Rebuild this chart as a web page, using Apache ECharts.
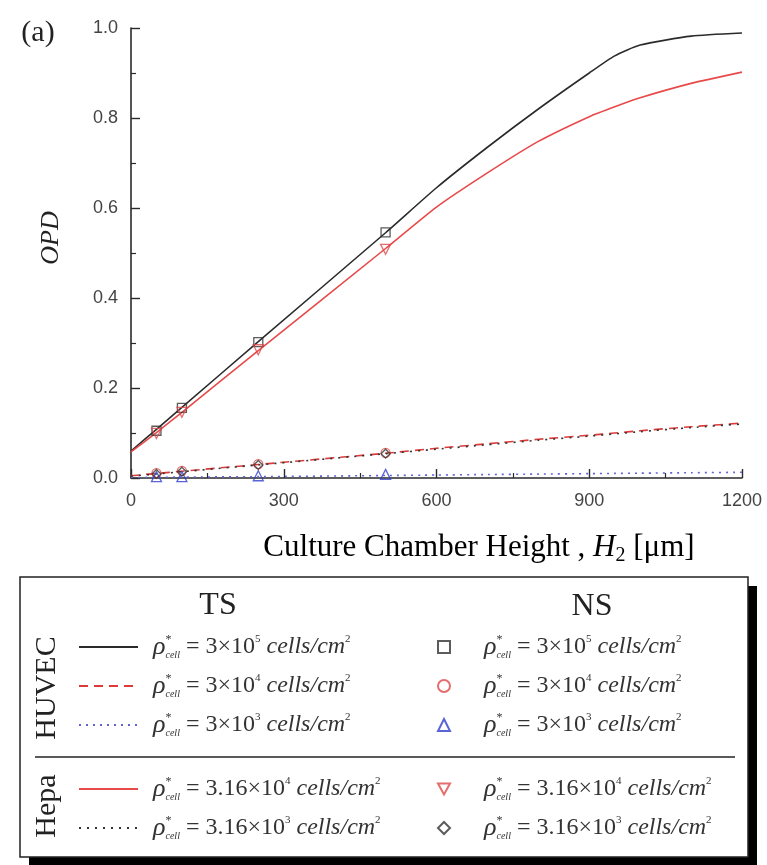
<!DOCTYPE html>
<html>
<head>
<meta charset="utf-8">
<script src="https://cdn.jsdelivr.net/npm/echarts@6/dist/echarts.min.js"></script>
<style>
  html, body { margin: 0; padding: 0; background: #fff; }
  #chart { width: 767px; height: 865px; }
</style>
</head>
<body>
<div id="chart"></div>
<script>
// chamber height H2 [um] for the TS curves
var hGrid = [0, 50, 100, 250, 500, 600, 700, 800, 900, 950, 1000, 1100, 1200];
// TS (lines)
var tsHuvec3e5 = [0.060, 0.108, 0.157, 0.303, 0.545, 0.645, 0.735, 0.820, 0.900, 0.938, 0.962, 0.982, 0.989];
var tsHuvec3e4 = [0.005, 0.010, 0.015, 0.030, 0.055, 0.066, 0.076, 0.086, 0.095, 0.100, 0.105, 0.114, 0.122];
var tsHuvec3e3 = [0.001, 0.0015, 0.002, 0.003, 0.0055, 0.0066, 0.0077, 0.0087, 0.0097, 0.0102, 0.0107, 0.0117, 0.0127];
var tsHepa316e4 = [0.058, 0.101, 0.146, 0.283, 0.510, 0.602, 0.678, 0.748, 0.803, 0.825, 0.845, 0.877, 0.902];
var tsHepa316e3 = [0.004, 0.009, 0.014, 0.029, 0.054, 0.064, 0.074, 0.084, 0.093, 0.098, 0.103, 0.112, 0.120];
// NS (markers)
var nsH = [50, 100, 250, 500];
var nsHuvec3e5 = [0.105, 0.156, 0.302, 0.546];
var nsHuvec3e4 = [0.011, 0.016, 0.031, 0.056];
var nsHuvec3e3 = [0.003, 0.003, 0.005, 0.008];
var nsHepa316e4 = [0.099, 0.146, 0.285, 0.508];
var nsHepa316e3 = [0.009, 0.014, 0.029, 0.054];

var xTicks = [0, 300, 600, 900, 1200];
var yTicks = [0.0, 0.2, 0.4, 0.6, 0.8, 1.0];

// legend labels: mantissa / exponent of rho*_cell
var labelMant = { h5: '3', h4: '3', h3: '3', p4: '3.16', p3: '3.16' };
var labelExp = { h5: '5', h4: '4', h3: '3', p4: '4', p3: '3' };

var SERIF = '"Liberation Serif", "DejaVu Serif", serif';
var SANS = '"Liberation Sans", Arial, sans-serif';
var INV_TRI = 'path://M0,0L10,0L5,9Z';

function pairs(xs, ys) {
  return xs.map(function (x, i) { return [x, ys[i]]; });
}

function tsLine(name, ys, color, type, width) {
  return {
    name: name, type: 'line', data: pairs(hGrid, ys),
    symbol: 'none', smooth: 0.2,
    lineStyle: { color: color, width: width || 1.6, type: type },
    itemStyle: { color: color },
    z: 2
  };
}

function nsMarks(name, ys, color, symbol, size) {
  return {
    name: name, type: 'scatter', data: pairs(nsH, ys),
    symbol: symbol, symbolSize: size,
    itemStyle: { color: 'rgba(255,255,255,0)', borderColor: color, borderWidth: 1.3 },
    z: 3
  };
}

var keyOf = {
  'TS h5': 'h5', 'TS h4': 'h4', 'TS h3': 'h3', 'TS p4': 'p4', 'TS p3': 'p3',
  'NS h5': 'h5', 'NS h4': 'h4', 'NS h3': 'h3', 'NS p4': 'p4', 'NS p3': 'p3'
};

function fmt(gap) {
  return function (name) {
    var k = keyOf[name];
    return '{' + gap + '| }{rho|ρ}{st|*}{cl|cell}{t| = ' + labelMant[k] + '×10}{sp|' + labelExp[k] +
      '}{it| cells/cm}{sp|2}';
  };
}

var rich = {
  g1: { width: 10 },
  g2: { width: 29 },
  rho: { fontFamily: SERIF, fontStyle: 'italic', fontSize: 26, lineHeight: 26, color: '#333' },
  st: { fontFamily: SERIF, fontSize: 12, lineHeight: 12, verticalAlign: 'top', width: 0, color: '#333' },
  cl: { fontFamily: SERIF, fontStyle: 'italic', fontSize: 10, lineHeight: 12, verticalAlign: 'bottom', color: '#333' },
  t: { fontFamily: SERIF, fontSize: 24, lineHeight: 26, color: '#333' },
  sp: { fontFamily: SERIF, fontSize: 11, lineHeight: 12, verticalAlign: 'top', color: '#333' },
  it: { fontFamily: SERIF, fontStyle: 'italic', fontSize: 24, lineHeight: 26, color: '#333' }
};

function legendBlock(names, left, top, w, h, gap, icons, hideDot) {
  var lg = {
    orient: 'vertical', left: left, top: top, padding: 0,
    itemWidth: w, itemHeight: h, itemGap: 13,
    selectedMode: false,
    data: names.map(function (n, i) { return icons && icons[i] ? { name: n, icon: icons[i] } : n; }),
    formatter: fmt(gap),
    textStyle: { rich: rich }
  };
  if (hideDot) {
    lg.itemStyle = { color: 'rgba(0,0,0,0)', borderColor: 'rgba(0,0,0,0)', borderWidth: 0 };
  }
  return lg;
}

var chart = echarts.init(document.getElementById('chart'));

chart.setOption({
  backgroundColor: '#fff',
  animation: false,
  grid: { left: 131, right: 25, top: 28, bottom: 387, containLabel: false },
  xAxis: {
    type: 'value', min: 0, max: 1200, interval: 300,
    axisLine: { show: true, lineStyle: { color: '#2a2a2a', width: 1.6 } },
    axisTick: { inside: true, length: 9, lineStyle: { color: '#2a2a2a', width: 1.4 } },
    minorTick: { show: true, splitNumber: 2, length: 5, lineStyle: { color: '#2a2a2a', width: 1.2 } },
    splitLine: { show: false },
    axisLabel: {
      margin: 14, fontFamily: SANS, fontSize: 18, color: '#444',
      formatter: function (v) { return String(v); },
      customValues: xTicks
    }
  },
  yAxis: {
    type: 'value', min: 0, max: 1.0, interval: 0.2,
    axisLine: { show: true, lineStyle: { color: '#2a2a2a', width: 1.6 } },
    axisTick: { inside: true, length: 9, lineStyle: { color: '#2a2a2a', width: 1.4 } },
    minorTick: { show: true, splitNumber: 2, length: 5, lineStyle: { color: '#2a2a2a', width: 1.2 } },
    splitLine: { show: false },
    axisLabel: {
      margin: 13, fontFamily: SANS, fontSize: 18, color: '#444',
      formatter: function (v) { return v.toFixed(1); },
      customValues: yTicks
    }
  },
  legend: [
    legendBlock(['TS h5', 'TS h4', 'TS h3'], 78, 634, 59, 14, 'g1', null, true),
    legendBlock(['TS p4', 'TS p3'], 78, 776, 59, 14, 'g1', null, true),
    legendBlock(['NS h5', 'NS h4', 'NS h3'], 437, 634, 12, 12, 'g2'),
    legendBlock(['NS p4', 'NS p3'], 437, 776, 12, 12, 'g2', [INV_TRI, null])
  ],
  graphic: [
    { type: 'rect', shape: { x: 29, y: 586, width: 728, height: 279 }, style: { fill: '#000' }, z: -2 },
    { type: 'rect', shape: { x: 20, y: 577, width: 728, height: 280 }, style: { fill: '#fff', stroke: '#222', lineWidth: 1.5 }, z: -1 },
    { type: 'line', shape: { x1: 35, y1: 757, x2: 735, y2: 757 }, style: { stroke: '#222', lineWidth: 1.6 } },
    { type: 'text', x: 218, y: 606, style: { text: 'TS', fontFamily: SERIF, fontSize: 32, fill: '#222', align: 'center', verticalAlign: 'middle' } },
    { type: 'text', x: 592, y: 607, style: { text: 'NS', fontFamily: SERIF, fontSize: 32, fill: '#222', align: 'center', verticalAlign: 'middle' } },
    { type: 'text', x: 47, y: 688, rotation: Math.PI / 2, style: { text: 'HUVEC', fontFamily: SERIF, fontSize: 30, fill: '#222', align: 'center', verticalAlign: 'middle' } },
    { type: 'text', x: 47, y: 806, rotation: Math.PI / 2, style: { text: 'Hepa', fontFamily: SERIF, fontSize: 30, fill: '#222', align: 'center', verticalAlign: 'middle' } },
    { type: 'text', x: 38, y: 33, style: { text: '(a)', fontFamily: SERIF, fontSize: 30, fill: '#222', align: 'center', verticalAlign: 'middle' } },
    { type: 'text', x: 51, y: 238, rotation: Math.PI / 2, style: { text: 'OPD', fontFamily: SERIF, fontStyle: 'italic', fontSize: 26, fill: '#222', align: 'center', verticalAlign: 'middle' } },
    {
      type: 'text', x: 479, y: 548,
      style: {
        text: '{a|Culture Chamber Height , }{i|H}{s|2}{a| [μm]}',
        align: 'center', verticalAlign: 'middle',
        rich: {
          a: { fontFamily: SERIF, fontSize: 31, lineHeight: 36, color: '#222' },
          i: { fontFamily: SERIF, fontStyle: 'italic', fontSize: 31, lineHeight: 36, color: '#222' },
          s: { fontFamily: SERIF, fontSize: 20, lineHeight: 24, verticalAlign: 'bottom', color: '#222' }
        }
      }
    }
  ],
  series: [
    tsLine('TS h5', tsHuvec3e5, '#2b2b2b', 'solid'),
    tsLine('TS h4', tsHuvec3e4, '#dd3b3b', [9, 6]),
    tsLine('TS h3', tsHuvec3e3, '#6262d6', [2, 5]),
    tsLine('TS p4', tsHepa316e4, '#e84a4a', 'solid'),
    tsLine('TS p3', tsHepa316e3, '#333333', [2, 6]),
    nsMarks('NS h5', nsHuvec3e5, '#333333', 'rect', 9),
    nsMarks('NS h4', nsHuvec3e4, '#e04848', 'circle', 9),
    nsMarks('NS h3', nsHuvec3e3, '#2f3fcc', 'triangle', 10),
    nsMarks('NS p4', nsHepa316e4, '#e04848', INV_TRI, 10),
    nsMarks('NS p3', nsHepa316e3, '#333333', 'diamond', 9)
  ]
});
</script>
</body>
</html>
